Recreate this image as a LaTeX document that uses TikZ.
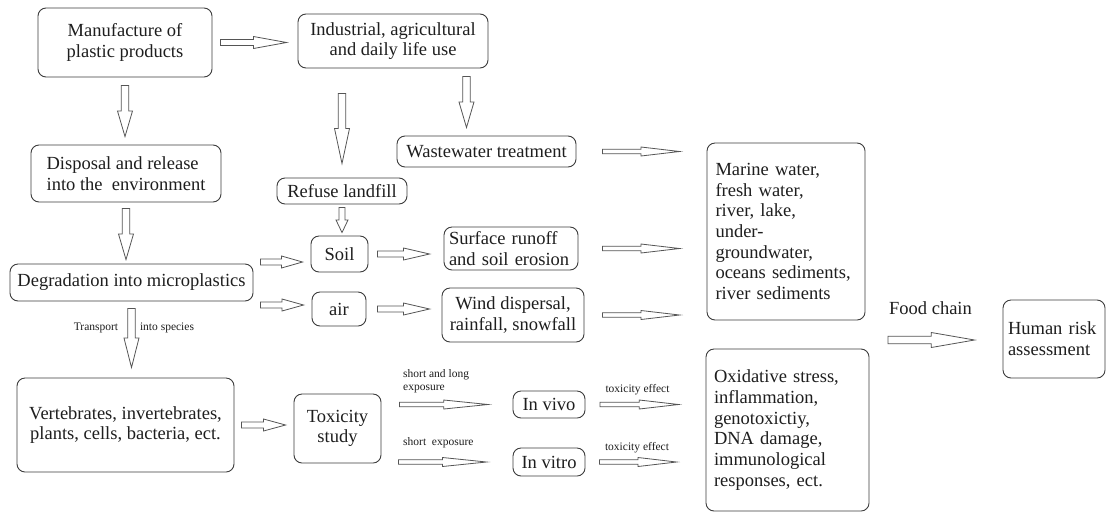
\documentclass[tikz,border=0pt]{standalone}
\usepackage{fontspec}
\setmainfont{Liberation Serif}
\usepackage{tikz}
\usetikzlibrary{calc}

\definecolor{boxline}{HTML}{3C3C3C}
\definecolor{arrline}{HTML}{555555}
\definecolor{ink}{HTML}{1E1E1E}
\newcommand{\boxfont}{\fontsize{18.5}{20.7}\selectfont}
\newcommand{\tagfont}{\fontsize{11.5}{13.5}\selectfont}

\tikzset{
  shaftw/.store in=\shaftw, headw/.store in=\headw,
  gapa/.store in=\gapa, gapb/.store in=\gapb,
  shaftw=3pt, headw=6pt, gapa=0pt, gapb=0pt,
  box/.style={draw=boxline, line width=0.9pt, rounded corners=8pt, inner sep=0pt,
    align=center, font=\boxfont, text=ink},
  lbox/.style={box, align=left, inner xsep=8pt},
  tag/.style={font=\tagfont, text=ink, inner sep=0pt},
  % outlined block arrow between two points
  hollow/.style={draw=arrline, line width=0.8pt, to path={
    let \p1=(\tikztostart), \p2=(\tikztotarget),
        \n1={atan2(\y2-\y1,\x2-\x1)},
        \n2={veclen(\x2-\x1,\y2-\y1)-\gapa-\gapb},
        \n3={\gapa+0.5*\n2}, \n4={\gapa+\n2} in
    ([shift={(\p1)},rotate=\n1]\gapa,\shaftw)
    -- ([shift={(\p1)},rotate=\n1]\n3,\shaftw)
    -- ([shift={(\p1)},rotate=\n1]\n3,\headw)
    -- ([shift={(\p1)},rotate=\n1]\n4,0pt)
    -- ([shift={(\p1)},rotate=\n1]\n3,-\headw)
    -- ([shift={(\p1)},rotate=\n1]\n3,-\shaftw)
    -- ([shift={(\p1)},rotate=\n1]\gapa,-\shaftw) -- cycle}},
  bigarr/.style={hollow, shaftw=3.7pt, headw=7.5pt},
  midarr/.style={hollow, shaftw=3pt, headw=6pt},
  smallarr/.style={hollow, shaftw=2.2pt, headw=4.5pt}
}

\begin{document}
\begin{tikzpicture}[x=1pt,y=-1pt]
  \path[use as bounding box, fill=white] (0,0) rectangle (1107,512);

  % left column
  \node[box, minimum width=174pt, minimum height=69pt] (make) at (125,42.5) {Manufacture of\\plastic products};
  \node[box, align=left, minimum width=190pt, minimum height=57pt] (disp) at (126,173.5) {Disposal and release\\into the~ environment};
  \node[box, minimum width=243pt, minimum height=37pt] (deg) at (131.5,282.5) {Degradation into microplastics};
  \node[box, minimum width=217pt, minimum height=94pt] (species) at (125.5,425) {Vertebrates, invertebrates,\\plants, cells, bacteria, ect.};

  % middle
  \node[box, minimum width=190pt, minimum height=54pt] (use) at (393,41) {Industrial, agricultural\\and daily life use};
  \node[box, minimum width=179pt, minimum height=31pt] (ww) at (486.5,151.5) {Wastewater treatment};
  \node[box, minimum width=130pt, minimum height=26pt] (refuse) at (342,191) {Refuse landfill};
  \node[box, minimum width=57pt, minimum height=36pt] (soil) at (339.5,254) {Soil};
  \node[box, minimum width=54pt, minimum height=34pt] (air) at (339,309) {air};
  \node[lbox, inner xsep=5pt, text width=124pt, minimum height=43pt] (runoff) at (511,248.5) {Surface runoff\\and soil erosion};
  \node[box, minimum width=142pt, minimum height=54pt] (wind) at (513,315) {Wind dispersal,\\rainfall, snowfall};
  \node[box, minimum width=87pt, minimum height=69pt] (tox) at (337.5,428.5) {Toxicity\\study};
  \node[box, minimum width=72pt, minimum height=27pt] (vivo) at (549,404.5) {In vivo};
  \node[box, minimum width=72pt, minimum height=28pt] (vitro) at (549,462) {In vitro};

  % right
  \node[lbox, inner xsep=8.5pt, text width=141pt, minimum height=177pt] (water) at (786,231.5)
    {Marine water,\\fresh water,\\river, lake,\\under-\\groundwater,\\oceans sediments,\\river sediments};
  \node[lbox, text width=147pt, minimum height=162pt] (effects) at (787.5,430)
    {Oxidative stress,\\inflammation,\\genotoxictiy,\\DNA damage,\\immunological\\responses, ect.};
  \node[lbox, inner xsep=5pt, text width=92pt, minimum height=78pt] (human) at (1054,339) {Human risk\\assessment};

  % labels
  \node[font=\boxfont, text=ink, inner sep=0pt] (food) at (930.5,308) {Food chain};
  \coordinate (fc) at (888,340);
  \node[tag] (tr1) at (96,328) {Transport};
  \node[tag] (tr2) at (167,328) {into species};
  \node[tag, align=left, anchor=west] (exp1) at (403,381) {short and long\\exposure};
  \node[tag, anchor=west] (exp2) at (403,443) {short~ exposure};
  \node[tag] (eff1) at (637.5,390) {toxicity effect};
  \node[tag] (eff2) at (637,448) {toxicity effect};

  % arrows
  \draw[midarr, gapa=8pt, gapb=11pt] (make.east) to (make.east -| use.west);
  \draw[bigarr, gapa=8pt, gapb=8pt] (make.south) to (make.south |- disp.north);
  \draw[bigarr, gapa=6pt, gapb=4pt] (disp.south) to (disp.south |- deg.north);
  \draw[bigarr, gapa=7pt, gapb=10pt] (deg.south) to (deg.south |- species.north);
  \draw[bigarr, gapa=25pt, gapb=14pt] (refuse.north |- use.south) to (refuse.north);
  \draw[bigarr, gapa=8pt, gapb=8pt] ([xshift=-20pt]ww.north |- use.south) to ([xshift=-20pt]ww.north);
  \draw[midarr, gapa=3pt, gapb=3pt] (refuse.south) to (refuse.south |- soil.north);
  \draw[midarr, gapa=7pt, gapb=8pt] ([yshift=20.5pt]deg.east) to ([yshift=20.5pt]deg.east -| soil.west);
  \draw[midarr, gapa=7pt, gapb=8pt] ([yshift=-22.5pt]deg.east) to ([yshift=-22.5pt]deg.east -| air.west);
  \draw[midarr, gapa=9pt, gapb=14pt] (soil.east) to (soil.east -| runoff.west);
  \draw[midarr, gapa=11pt, gapb=12pt] (air.east) to (air.east -| wind.west);
  \draw[smallarr, gapa=26pt, gapb=27pt] (ww.east) to (ww.east -| water.west);
  \draw[smallarr, gapa=24pt, gapb=27pt] (runoff.east) to (runoff.east -| water.west);
  \draw[smallarr, gapa=18pt, gapb=27pt] (wind.east) to (wind.east -| water.west);
  \draw[midarr, gapa=7pt, gapb=8pt] (species.east) to (species.east -| tox.west);
  \draw[smallarr, gapa=18pt, gapb=24.5pt] (tox.east |- vivo.west) to (vivo.west);
  \draw[smallarr, gapa=17pt, gapb=26pt] (tox.east |- vitro.west) to (vitro.west);
  \draw[smallarr, gapa=14.5pt, gapb=27pt] (vivo.east) to (vivo.east -| effects.west);
  \draw[smallarr, gapa=14pt, gapb=29pt] (vitro.east) to (vitro.east -| effects.west);
  \draw[bigarr, gapb=28pt] (fc) to (fc -| human.west);
\end{tikzpicture}
\end{document}
